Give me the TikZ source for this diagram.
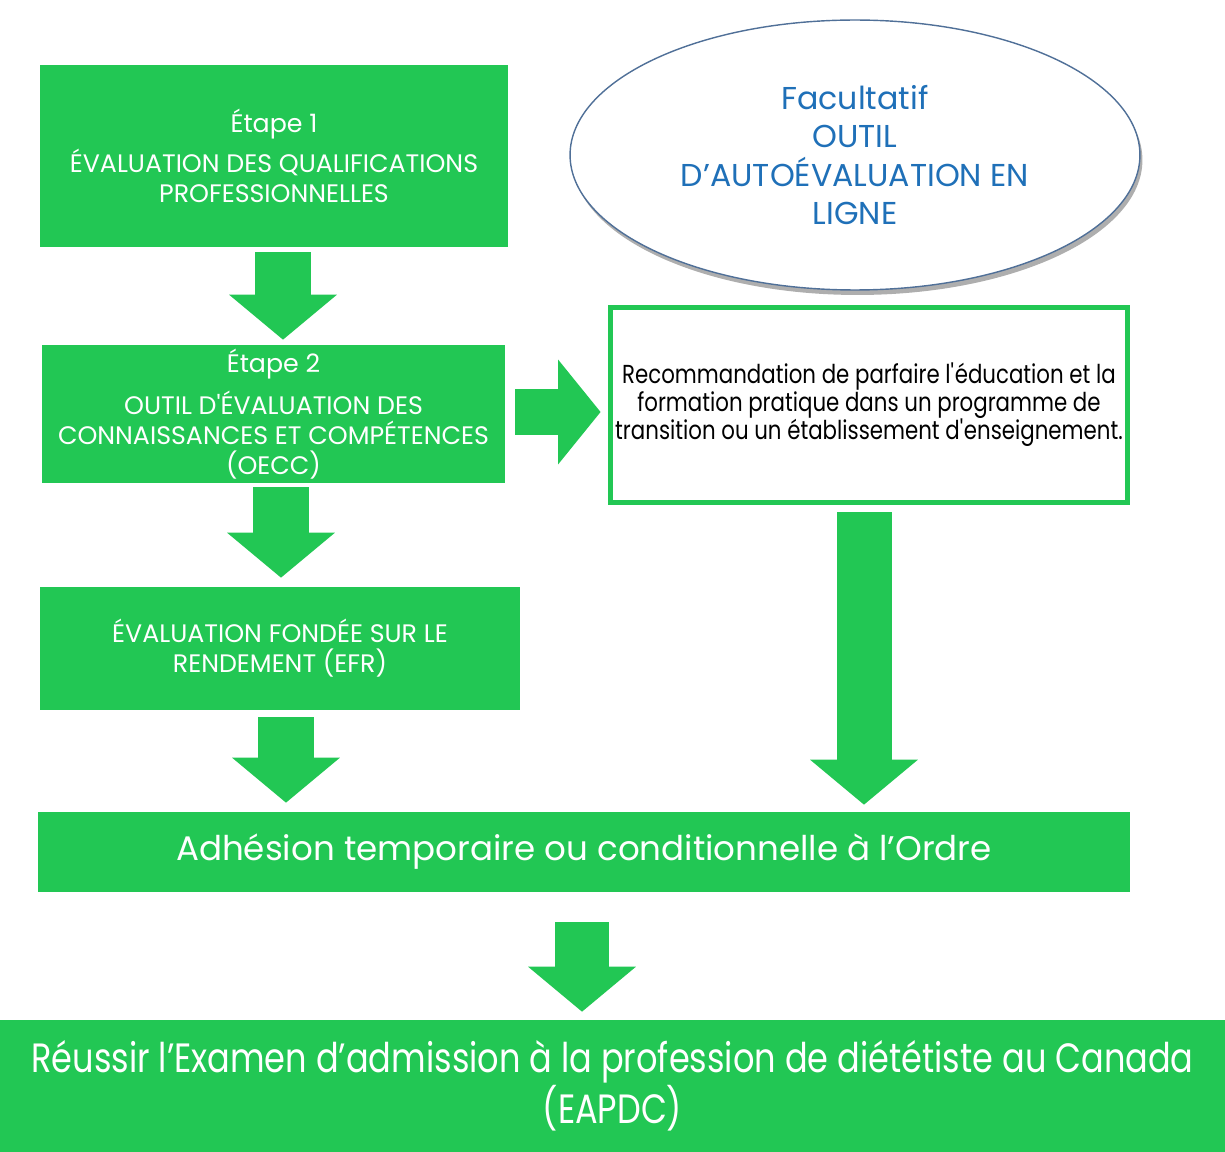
\documentclass[tikz,border=0pt]{standalone}
\usepackage{fontspec}
\setmainfont{Poppins}
\newfontfamily\narrowfont[FakeStretch=0.82]{Poppins}
\usetikzlibrary{arrows.meta,shapes.geometric,shadows}

\definecolor{stepgreen}{RGB}{34,199,84}
\definecolor{ovalblue}{RGB}{31,112,184}
\definecolor{ovalrim}{RGB}{80,112,152}

\tikzset{
  stepbox/.style={fill=stepgreen, text=white, align=center, inner sep=0pt},
  notebox/.style={draw=stepgreen, line width=0.1cm, fill=white, align=center, inner sep=0pt},
  ovalbox/.style={ellipse, draw=ovalrim, thick, fill=white, text=ovalblue, align=center,
    drop shadow={shadow xshift=0.05cm, shadow yshift=-0.1cm, fill=black!45, opacity=0.7}},
  blockarrow/.style={draw=stepgreen, line width=1.14cm,
    -{Triangle[length=0.9cm, width=2.16cm, line width=0pt]}}
}

\begin{document}
\begin{tikzpicture}[x=0.02cm, y=-0.02cm]
	\useasboundingbox (0,0) rectangle (1225,1152);

	\node(s_1) [stepbox, minimum width=9.36cm, minimum height=3.64cm, font=\fontsize{14.4}{17}\selectfont]
		at (274,156) {Étape 1\\[5pt] ÉVALUATION DES QUALIFICATIONS\\ PROFESSIONNELLES};
	\node(s_2) [stepbox, minimum width=9.26cm, minimum height=2.76cm, font=\fontsize{14.4}{17}\selectfont]
		at (273.5,414) {Étape 2\\[6pt] OUTIL D\textquotesingle ÉVALUATION DES\\ CONNAISSANCES ET COMPÉTENCES\\ (OECC)};
	\node(s_3) [stepbox, minimum width=9.6cm, minimum height=2.46cm, font=\fontsize{14.4}{17}\selectfont]
		at (280,648.5) {ÉVALUATION FONDÉE SUR LE\\ RENDEMENT (EFR)};
	\node(tool) [ovalbox, minimum width=11.4cm, minimum height=5.4cm, font=\fontsize{18}{22}\selectfont]
		at (855,155) {Facultatif\\ OUTIL\\ D’AUTOÉVALUATION EN\\ LIGNE};
	\node(rec) [notebox, minimum width=10.34cm, minimum height=3.9cm, font=\narrowfont\fontsize{14.8}{16}\selectfont]
		at (869,405) {Recommandation de parfaire l\textquotesingle éducation et la\\ formation pratique dans un programme de\\ transition ou un établissement d\textquotesingle enseignement.};
	\node(adh) [stepbox, minimum width=21.84cm, minimum height=1.6cm, font=\fontsize{19.4}{24}\selectfont]
		at (584,852) {Adhésion temporaire ou conditionnelle à l’Ordre};
	\node(exam) [stepbox, minimum width=24.5cm, minimum height=2.64cm, font=\narrowfont\fontsize{23.3}{25.5}\selectfont]
		at (612.5,1086) {Réussir l’Examen d’admission à la profession de diététiste au Canada\\ (EAPDC)};

	\draw[blockarrow, shorten <=0.1cm, shorten >=0.1cm]
		([xshift=0.18cm]s_1.south) -- ([xshift=0.18cm]s_1.south |- s_2.north);
	\draw[blockarrow, shorten <=0.08cm, shorten >=0.18cm]
		([xshift=0.15cm]s_2.south) -- ([xshift=0.15cm]s_2.south |- s_3.north);
	\draw[blockarrow, shorten <=0.14cm, shorten >=0.18cm]
		([xshift=0.12cm]s_3.south) -- ([xshift=0.12cm]s_3.south |- adh.north);
	\draw[blockarrow, line width=0.94cm, -{Triangle[length=0.85cm, width=2.1cm, line width=0pt]},
		shorten <=0.2cm, shorten >=0.15cm]
		([yshift=0.04cm]s_2.east) -- ([yshift=0.04cm]s_2.east -| rec.west);
	\draw[blockarrow, line width=1.1cm, shorten <=0.15cm, shorten >=0.14cm]
		([xshift=-0.1cm]rec.south) -- ([xshift=-0.1cm]rec.south |- adh.north);
	\draw[blockarrow, line width=1.1cm, shorten <=0.6cm, shorten >=0.16cm]
		([xshift=-0.04cm]adh.south) -- ([xshift=-0.04cm]adh.south |- exam.north);
\end{tikzpicture}
\end{document}
